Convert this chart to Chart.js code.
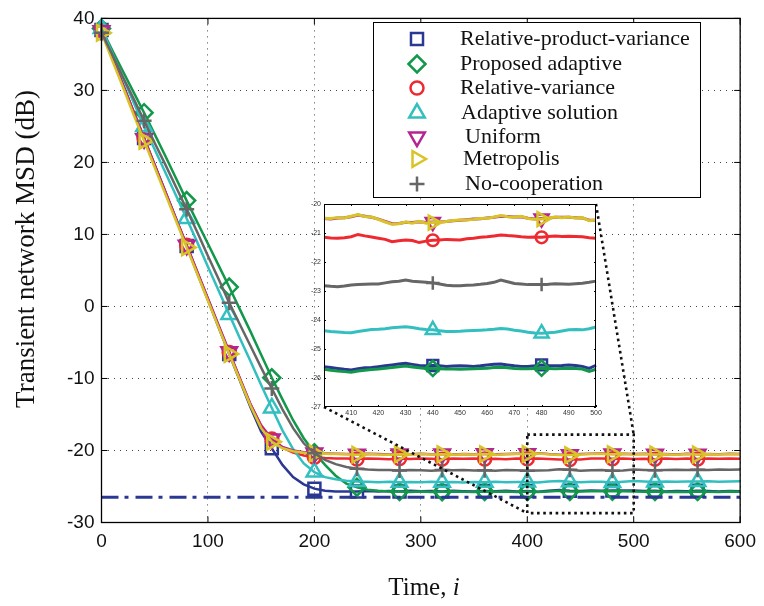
<!DOCTYPE html>
<html><head><meta charset="utf-8">
<script src="https://cdn.jsdelivr.net/npm/chart.js@4.4.1/dist/chart.umd.min.js"></script>
<style>
html,body{margin:0;padding:0;background:#fff;}
#wrap{position:relative;width:764px;height:606px;overflow:hidden;}
#main{position:absolute;left:0;top:0;}
#inset{position:absolute;}
</style></head><body>
<div id="wrap"><canvas id="main" width="764" height="606"></canvas><canvas id="inset" width="310" height="222"></canvas></div>
<script>
// ---------------- DATA ----------------
const time = [0,10,20,30,40,50,60,70,80,90,100,110,120,130,140,150,160,170,180,190,200,210,220,230,240,250,260,270,280,290,300,310,320,330,340,350,360,370,380,390,400,410,420,430,440,450,460,470,480,490,500,510,520,530,540,550,560,570,580,590,600];
const xTicks = [0,100,200,300,400,500,600];
const yTicks = [-30,-20,-10,0,10,20,30,40];

const relProdVar = [38.4,34.6,30.9,27.1,23.4,19.6,15.9,12.1,8.4,4.6,0.9,-2.9,-6.6,-10.3,-14.0,-17.4,-19.7,-22.0,-23.7,-24.7,-25.3,-25.6,-25.7,-25.7,-25.7,
 -25.62,-25.68,-25.64,-25.7,-25.6,-25.66,-25.63,-25.69,-25.6,-25.65,-25.7,-25.62,-25.66,-25.6,-25.68,-25.61,-25.72,-25.6,-25.5,-25.6,-25.62,-25.55,-25.6,-25.57,-25.57,-25.57,-25.64,-25.6,-25.68,-25.62,-25.66,-25.6,-25.64,-25.7,-25.62,-25.65];
const proposedAdaptive = [38.6,35.6,32.7,29.8,26.9,23.9,20.9,17.8,14.7,11.7,8.7,5.7,2.7,-0.4,-3.5,-6.7,-9.9,-12.9,-15.8,-18.3,-20.3,-22.0,-23.5,-24.6,-25.1,-25.45,-25.6,-25.68,-25.7,
 -25.75,-25.7,-25.76,-25.72,-25.68,-25.74,-25.78,-25.7,-25.73,-25.69,-25.76,-25.7,-25.78,-25.7,-25.6,-25.68,-25.7,-25.66,-25.67,-25.66,-25.66,-25.7,-25.74,-25.7,-25.77,-25.72,-25.75,-25.7,-25.74,-25.78,-25.71,-25.74];
const relVariance = [38.3,34.6,30.8,27.1,23.4,19.6,15.9,12.2,8.5,4.8,1.0,-2.7,-6.4,-10.0,-13.6,-16.5,-18.4,-19.6,-20.3,-20.7,-20.95,-21.05,-21.1,
 -21.12,-21.18,-21.1,-21.16,-21.2,-21.12,-21.17,-21.1,-21.15,-21.2,-21.13,-21.16,-21.1,-21.18,-21.14,-21.2,-21.12,-21.15,-21.13,-21.18,-21.24,-21.24,-21.24,-21.13,-21.1,-21.15,-21.11,-21.18,-21.14,-21.2,-21.12,-21.17,-21.13,-21.19,-21.12,-21.16,-21.1,-21.15];
const adaptiveSolution = [38.6,35.2,31.8,28.4,25.0,21.8,18.6,15.4,12.2,8.9,5.5,2.2,-1.1,-4.4,-7.6,-10.9,-14.1,-17.2,-19.8,-21.8,-23.0,-23.7,-24.0,-24.2,-24.3,-24.35,
 -24.4,-24.35,-24.42,-24.36,-24.4,-24.33,-24.4,-24.38,-24.44,-24.36,-24.4,-24.34,-24.42,-24.38,-24.37,-24.44,-24.32,-24.23,-24.35,-24.4,-24.35,-24.34,-24.46,-24.33,-24.25,-24.3,-24.36,-24.3,-24.34,-24.3,-24.32,-24.28,-24.33,-24.3,-24.28];
const uniform = [38.3,34.5,30.8,27.0,23.3,19.6,15.9,12.2,8.5,4.8,1.1,-2.6,-6.3,-10.0,-13.6,-16.6,-18.4,-19.5,-20.0,-20.25,-20.35,-20.42,-20.46,
 -20.48,-20.53,-20.47,-20.5,-20.56,-20.49,-20.52,-20.46,-20.53,-20.5,-20.56,-20.48,-20.52,-20.46,-20.54,-20.5,-20.46,-20.45,-20.38,-20.5,-20.58,-20.6,-20.5,-20.46,-20.43,-20.5,-20.44,-20.5,-20.46,-20.52,-20.48,-20.54,-20.46,-20.51,-20.48,-20.53,-20.46,-20.5];
const metropolis = [38.0,34.2,30.5,26.7,23.0,19.3,15.6,11.9,8.2,4.5,0.8,-2.9,-6.6,-10.2,-13.8,-16.9,-18.8,-19.7,-20.1,-20.3,-20.4,-20.45,-20.5,
 -20.52,-20.58,-20.5,-20.55,-20.6,-20.52,-20.56,-20.5,-20.57,-20.53,-20.6,-20.52,-20.56,-20.5,-20.58,-20.54,-20.5,-20.49,-20.41,-20.53,-20.61,-20.64,-20.55,-20.49,-20.46,-20.52,-20.46,-20.55,-20.5,-20.56,-20.52,-20.58,-20.5,-20.55,-20.52,-20.57,-20.5,-20.54];
const noCooperation = [38.0,35.0,31.9,28.9,25.8,22.7,19.7,16.6,13.5,10.3,7.0,3.8,0.5,-2.5,-5.5,-8.5,-11.4,-14.3,-16.9,-19.0,-20.4,-21.3,-21.9,-22.3,-22.55,-22.65,-22.7,
 -22.72,-22.78,-22.7,-22.76,-22.8,-22.72,-22.75,-22.7,-22.78,-22.74,-22.8,-22.72,-22.76,-22.82,-22.79,-22.76,-22.62,-22.68,-22.82,-22.74,-22.7,-22.8,-22.78,-22.64,-22.7,-22.76,-22.72,-22.68,-22.72,-22.66,-22.7,-22.64,-22.68,-22.65];
const optimalMSD = -26.5;

// inset (zoom 400..500)
const insetTime = [400,402.5,405,407.5,410,412.5,415,417.5,420,422.5,425,427.5,430,432.5,435,437.5,440,442.5,445,447.5,450,452.5,455,457.5,460,462.5,465,467.5,470,472.5,475,477.5,480,482.5,485,487.5,490,492.5,495,497.5,500];
const insetXTicks = [410,420,430,440,450,460,470,480,490,500];
const insetYTicks = [-27,-26,-25,-24,-23,-22,-21,-20];
const insetRelProdVar = [-25.61,-25.64,-25.67,-25.7,-25.72,-25.68,-25.65,-25.64,-25.61,-25.58,-25.55,-25.52,-25.49,-25.53,-25.57,-25.58,-25.57,-25.58,-25.6,-25.59,-25.58,-25.59,-25.6,-25.58,-25.55,-25.53,-25.52,-25.55,-25.58,-25.6,-25.6,-25.58,-25.55,-25.57,-25.58,-25.57,-25.55,-25.57,-25.6,-25.67,-25.56];
const insetProposed = [-25.7,-25.73,-25.76,-25.78,-25.8,-25.76,-25.73,-25.71,-25.69,-25.66,-25.64,-25.61,-25.59,-25.62,-25.65,-25.67,-25.67,-25.68,-25.69,-25.69,-25.7,-25.69,-25.68,-25.67,-25.66,-25.64,-25.63,-25.65,-25.67,-25.68,-25.68,-25.67,-25.66,-25.67,-25.68,-25.67,-25.66,-25.67,-25.69,-25.77,-25.7];
const insetRelVariance = [-21.15,-21.17,-21.18,-21.16,-21.13,-21.05,-21.1,-21.14,-21.18,-21.22,-21.3,-21.27,-21.24,-21.26,-21.33,-21.28,-21.25,-21.24,-21.22,-21.23,-21.24,-21.2,-21.18,-21.15,-21.13,-21.1,-21.07,-21.09,-21.1,-21.13,-21.15,-21.14,-21.15,-21.12,-21.1,-21.12,-21.11,-21.12,-21.13,-21.16,-21.18];
const insetAdaptive = [-24.37,-24.4,-24.41,-24.43,-24.44,-24.4,-24.36,-24.33,-24.32,-24.3,-24.27,-24.25,-24.23,-24.26,-24.3,-24.33,-24.34,-24.37,-24.4,-24.4,-24.39,-24.37,-24.36,-24.35,-24.34,-24.32,-24.29,-24.31,-24.35,-24.38,-24.42,-24.45,-24.46,-24.44,-24.42,-24.38,-24.34,-24.33,-24.34,-24.3,-24.24];
const insetUniform = [-20.5,-20.52,-20.48,-20.47,-20.44,-20.38,-20.42,-20.46,-20.52,-20.6,-20.68,-20.67,-20.63,-20.64,-20.61,-20.64,-20.62,-20.62,-20.6,-20.58,-20.56,-20.54,-20.52,-20.51,-20.48,-20.46,-20.42,-20.43,-20.45,-20.44,-20.49,-20.52,-20.5,-20.49,-20.46,-20.46,-20.46,-20.47,-20.48,-20.56,-20.56];
const insetMetropolis = [-20.49,-20.5,-20.47,-20.48,-20.42,-20.36,-20.43,-20.45,-20.53,-20.62,-20.7,-20.68,-20.62,-20.66,-20.6,-20.66,-20.64,-20.63,-20.6,-20.57,-20.55,-20.55,-20.53,-20.5,-20.49,-20.45,-20.4,-20.44,-20.46,-20.42,-20.5,-20.53,-20.52,-20.48,-20.45,-20.47,-20.45,-20.48,-20.47,-20.58,-20.55];
const insetNoCoop = [-22.82,-22.84,-22.85,-22.83,-22.79,-22.78,-22.77,-22.76,-22.76,-22.72,-22.68,-22.66,-22.62,-22.66,-22.68,-22.7,-22.72,-22.76,-22.8,-22.82,-22.82,-22.8,-22.79,-22.77,-22.74,-22.7,-22.62,-22.68,-22.74,-22.76,-22.78,-22.78,-22.78,-22.77,-22.75,-22.76,-22.77,-22.75,-22.73,-22.7,-22.66];

// zoom window on main axes (data units)
const zoomBox = {x0:400, x1:500, yTop:-17.8, yBottom:-28.7};

// ---------------- STYLES ----------------
const series = [
 {label:'Relative-product-variance', main:relProdVar, inset:insetRelProdVar, color:'#2b3893', ps:'rect', rot:0, r:8.5},
 {label:'Proposed adaptive', main:proposedAdaptive, inset:insetProposed, color:'#12984a', ps:'rectRot', rot:0, r:8.5},
 {label:'Relative-variance', main:relVariance, inset:insetRelVariance, color:'#ee2a30', ps:'circle', rot:0, r:6.5},
 {label:'Adaptive solution', main:adaptiveSolution, inset:insetAdaptive, color:'#33bfc0', ps:'triangle', rot:0, r:9},
 {label:'Uniform', main:uniform, inset:insetUniform, color:'#b4258f', ps:'triangle', rot:180, r:9},
 {label:'Metropolis', main:metropolis, inset:insetMetropolis, color:'#d8c427', ps:'triangle', rot:90, r:9},
 {label:'No-cooperation', main:noCooperation, inset:insetNoCoop, color:'#666666', ps:'cross', rot:0, r:7.5}
];
const legendTextX = [460,460,460,461,465,463,465];
const legendRowY = [39,64,88,113,137,159,184];
const insetPos = {x:296, y:196};
const cv = document.getElementById('inset');
cv.style.left = insetPos.x + 'px'; cv.style.top = insetPos.y + 'px';

function drawMarker(ctx, s, x, y, r){
  ctx.save();
  ctx.strokeStyle = s.color; ctx.fillStyle = 'rgba(0,0,0,0)'; ctx.lineWidth = 2.5;
  Chart.helpers.drawPoint(ctx, {pointStyle:s.ps, rotation:s.rot, radius:r, borderWidth:2.5}, x, y);
  ctx.restore();
}

// ---------------- INSET ----------------
const insetPlugin = {
  id:'insetDeco',
  beforeDraw(chart){
    const {ctx, chartArea:a} = chart;
    ctx.save(); ctx.fillStyle='#fff'; ctx.fillRect(a.left,a.top,a.right-a.left,a.bottom-a.top); ctx.restore();
  },
  afterDraw(chart){
    const {ctx, chartArea:a, scales:{x,y}} = chart;
    ctx.save(); ctx.strokeStyle='#000'; ctx.lineWidth=1;
    ctx.strokeRect(a.left+0.5,a.top+0.5,a.right-a.left-1,a.bottom-a.top-1);
    ctx.beginPath();
    insetXTicks.forEach(v=>{const px=Math.round(x.getPixelForValue(v))+0.5; ctx.moveTo(px,a.bottom); ctx.lineTo(px,a.bottom-2); ctx.moveTo(px,a.top); ctx.lineTo(px,a.top+2);});
    insetYTicks.forEach(v=>{const py=Math.round(y.getPixelForValue(v))+0.5; ctx.moveTo(a.left,py); ctx.lineTo(a.left+2,py); ctx.moveTo(a.right,py); ctx.lineTo(a.right-2,py);});
    ctx.stroke(); ctx.restore();
  }
};
const insetMarkerAt = [440, 480];
const insetChart = new Chart(cv, {
  type:'line',
  data:{datasets: series.map((s,i)=>({
    label:s.label,
    data: insetTime.map((t,k)=>({x:t, y:s.inset[k]})),
    borderColor:s.color, backgroundColor:'rgba(0,0,0,0)', borderWidth:3, tension:0,
    pointStyle:s.ps, pointRotation:s.rot, pointBorderColor:s.color, pointBackgroundColor:'rgba(0,0,0,0)', pointBorderWidth:2.5,
    pointRadius: c => insetMarkerAt.includes(insetTime[c.dataIndex]) ? s.r*0.9 : 0,
    order: series.length - i, clip:false
  }))},
  options:{
    responsive:false, animation:false, events:[],
    layout:{padding:{left:0,right:10,top:8,bottom:0}},
    plugins:{legend:{display:false}, tooltip:{enabled:false}},
    scales:{
      x:{type:'linear', min:400, max:500,
        afterBuildTicks: s=>{ s.ticks = insetXTicks.map(v=>({value:v})); },
        ticks:{font:{family:'Liberation Sans', size:7}, color:'#333', padding:2, maxRotation:0, autoSkip:false},
        grid:{display:false, drawTicks:false}, border:{display:false},
        afterFit: s=>{ s.height = 11; }},
      y:{type:'linear', min:-27, max:-20,
        afterBuildTicks: s=>{ s.ticks = insetYTicks.map(v=>({value:v})); },
        ticks:{font:{family:'Liberation Sans', size:7}, color:'#333', padding:3, autoSkip:false},
        grid:{display:false, drawTicks:false}, border:{display:false},
        afterFit: s=>{ s.width = 28; }}
    }
  },
  plugins:[insetPlugin]
});

// ---------------- MAIN ----------------
const mainPlugin = {
  id:'mainDeco',
  afterDatasetsDraw(chart){
    const {ctx, scales:{x,y}} = chart;
    ctx.save();
    ctx.strokeStyle='#111'; ctx.lineWidth=2.6; ctx.setLineDash([2.6,3.6]);
    const rx0=x.getPixelForValue(zoomBox.x0), rx1=x.getPixelForValue(zoomBox.x1);
    const ry0=y.getPixelForValue(zoomBox.yTop), ry1=y.getPixelForValue(zoomBox.yBottom);
    ctx.strokeRect(rx0, ry0, rx1-rx0, ry1-ry0);
    const ia = insetChart.chartArea;
    ctx.beginPath();
    ctx.moveTo(insetPos.x+ia.left, insetPos.y+ia.bottom); ctx.lineTo(rx0, ry1);
    ctx.moveTo(insetPos.x+ia.right, insetPos.y+ia.top); ctx.lineTo(rx1, ry0);
    ctx.stroke();
    ctx.restore();
  },
  afterDraw(chart){
    const {ctx, chartArea:a, scales:{x,y}} = chart;
    ctx.save();
    // frame
    ctx.strokeStyle='#000'; ctx.lineWidth=1.3; ctx.setLineDash([]);
    ctx.strokeRect(a.left, a.top, a.right-a.left, a.bottom-a.top);
    // inward ticks
    ctx.lineWidth=1; ctx.beginPath();
    xTicks.forEach(v=>{const px=x.getPixelForValue(v); ctx.moveTo(px,a.bottom); ctx.lineTo(px,a.bottom-6); ctx.moveTo(px,a.top); ctx.lineTo(px,a.top+6);});
    yTicks.forEach(v=>{const py=y.getPixelForValue(v); ctx.moveTo(a.left,py); ctx.lineTo(a.left+6,py); ctx.moveTo(a.right,py); ctx.lineTo(a.right-6,py);});
    ctx.stroke();
    // legend
    ctx.fillStyle='#fff'; ctx.fillRect(373.5,22.5,327,175);
    ctx.strokeStyle='#000'; ctx.lineWidth=1; ctx.strokeRect(373.5,22.5,327,175);
    series.forEach((s,i)=>{
      drawMarker(ctx, s, 417, legendRowY[i], s.r);
      ctx.fillStyle='#111'; ctx.font='22px "Liberation Serif"'; ctx.textAlign='left'; ctx.textBaseline='middle';
      ctx.fillText(s.label, legendTextX[i], legendRowY[i]);
    });
    // axis titles
    ctx.fillStyle='#111';
    ctx.font='25px "Liberation Serif"'; ctx.textBaseline='alphabetic';
    const t1='Time, ', t2='i';
    const w1=ctx.measureText(t1).width;
    ctx.font='italic 25px "Liberation Serif"';
    const w2=ctx.measureText(t2).width;
    const sx = 424 - (w1+w2)/2;
    ctx.font='25px "Liberation Serif"'; ctx.textAlign='left'; ctx.fillText(t1, sx, 595);
    ctx.font='italic 25px "Liberation Serif"'; ctx.fillText(t2, sx+w1, 595);
    ctx.translate(34, 249); ctx.rotate(-Math.PI/2);
    ctx.font='27px "Liberation Serif"'; ctx.textAlign='center';
    ctx.fillText('Transient network MSD (dB)', 0, 0);
    ctx.restore();
  }
};

const mainDatasets = series.map((s,i)=>({
  label:s.label,
  data: time.map((t,k)=>({x:t, y:s.main[k]})),
  borderColor:s.color, backgroundColor:'rgba(0,0,0,0)', borderWidth:2.5, tension:0,
  pointStyle:s.ps, pointRotation:s.rot, pointBorderColor:s.color, pointBackgroundColor:'rgba(0,0,0,0)', pointBorderWidth:2.5,
  pointRadius: c => (time[c.dataIndex] % 40 === 0 && time[c.dataIndex] < 600) ? s.r : 0,
  order: series.length - i, clip:false
}));
mainDatasets.push({
  label:'optimal', data:[{x:time[0], y:optimalMSD},{x:time[time.length-1], y:optimalMSD}],
  borderColor:'#2b3893', borderWidth:3, borderDash:[17,6,4,7], pointRadius:0, order:0
});

const mainChart = new Chart(document.getElementById('main'), {
  type:'line',
  data:{datasets: mainDatasets},
  options:{
    responsive:false, animation:false, events:[],
    layout:{padding:{left:0,right:19,top:15,bottom:0}},
    plugins:{legend:{display:false}, tooltip:{enabled:false}},
    scales:{
      x:{type:'linear', min:0, max:600,
        afterBuildTicks: s=>{ s.ticks = xTicks.map(v=>({value:v})); },
        ticks:{font:{family:'Liberation Sans', size:19}, color:'#111', padding:8, maxRotation:0, autoSkip:false},
        grid:{color:'#444', lineWidth:1, drawTicks:false}, border:{display:false, dash:[1,5]},
        afterFit: s=>{ s.height = 83.5; }},
      y:{type:'linear', min:-30, max:40,
        afterBuildTicks: s=>{ s.ticks = yTicks.map(v=>({value:v})); },
        ticks:{font:{family:'Liberation Sans', size:19}, color:'#111', padding:7, autoSkip:false},
        grid:{color:'#444', lineWidth:1, drawTicks:false}, border:{display:false, dash:[1,5]},
        afterFit: s=>{ s.width = 101.5; }}
    }
  },
  plugins:[mainPlugin]
});
</script>
</body></html>
